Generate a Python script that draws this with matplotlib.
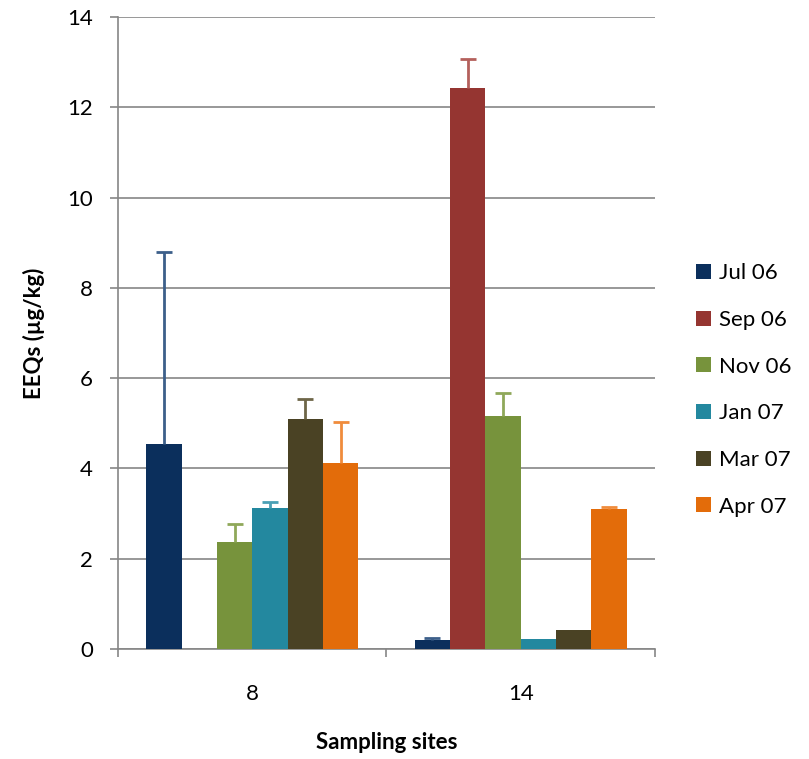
import numpy as np
import matplotlib.pyplot as plt

plt.rcParams['font.family'] = ['Lato', 'DejaVu Sans']

sites = ["8", "14"]
months = ["Jul 06", "Sep 06", "Nov 06", "Jan 07", "Mar 07", "Apr 07"]
colors = ["#0b2f5c", "#953531", "#77933c", "#23889f", "#4a4224", "#e36c0a"]
err_colors = ["#3c5f8a", "#b4605c", "#8fa85a", "#4aa0b5", "#6e6648", "#f08c3c"]

# values per month: [site 8, site 14]
means = {
    "Jul 06": [4.55, 0.20],
    "Sep 06": [0.0, 12.42],
    "Nov 06": [2.38, 5.17],
    "Jan 07": [3.12, 0.23],
    "Mar 07": [5.10, 0.43],
    "Apr 07": [4.11, 3.10],
}
errors = {
    "Jul 06": [4.25, 0.05],
    "Sep 06": [0.0, 0.64],
    "Nov 06": [0.40, 0.50],
    "Jan 07": [0.13, 0.0],
    "Mar 07": [0.43, 0.0],
    "Apr 07": [0.91, 0.05],
}

fig = plt.figure(figsize=(8.09, 7.59), dpi=100)
ax = fig.add_axes([0.1459, 0.1449, 0.6637, 0.8327])

x = np.arange(len(sites))
w = 0.79 / len(months)
for i, m in enumerate(months):
    pos = x - 0.395 + w * (i + 0.5)
    vals = np.array(means[m])
    errs = np.array(errors[m])
    ax.bar(pos, vals, w, color=colors[i], label=m, zorder=3)
    mask = errs > 0
    eb = ax.errorbar(pos[mask], vals[mask], yerr=[np.zeros(mask.sum()), errs[mask]],
                     fmt="none", ecolor=err_colors[i], elinewidth=2, capsize=6,
                     capthick=2, zorder=4)
    # only keep the upper cap
    eb[1][0].set_visible(False)

ax.set_xlim(-0.5, 1.5)
ax.set_ylim(0, 14)
ax.set_yticks(range(0, 15, 2))
ax.yaxis.grid(True, color="#868686", linewidth=1.2, zorder=0)
ax.set_xticks(x)
ax.set_xticklabels(sites, fontsize=16)
ax.set_xticks([-0.5, 0.5, 1.5], minor=True)
ax.tick_params(axis="x", which="major", length=0, pad=25)
ax.tick_params(axis="x", which="minor", length=6, color="#868686", width=1.2)
ax.tick_params(axis="y", length=6, color="#868686", width=1.2, labelsize=16, pad=12)
for s in ["top", "right"]:
    ax.spines[s].set_visible(False)
for s in ["left", "bottom"]:
    ax.spines[s].set_color("#868686")
    ax.spines[s].set_linewidth(1.2)

ax.set_xlabel("Sampling sites", fontsize=16, fontweight="bold", labelpad=20)
ax.set_ylabel("EEQs (µg/kg)", fontsize=16, fontweight="bold", labelpad=16)

ax.legend(loc="center left", bbox_to_anchor=(1.04, 0.41), frameon=False,
          fontsize=16, handlelength=0.65, handleheight=0.65, handletextpad=0.35,
          labelspacing=1.2)

fig.savefig("out.png", dpi=100)
